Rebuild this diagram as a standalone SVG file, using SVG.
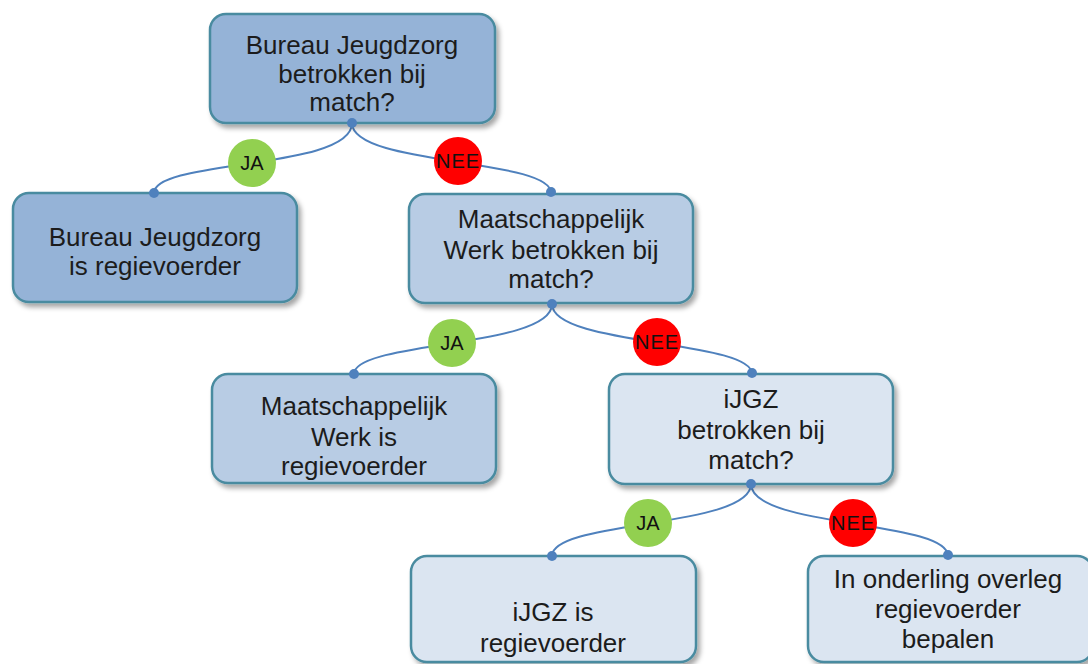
<svg xmlns="http://www.w3.org/2000/svg" width="1088" height="664" viewBox="0 0 1088 664">
  <defs>
    <filter id="shadow" x="-10%" y="-10%" width="125%" height="135%">
      <feDropShadow dx="3" dy="4" stdDeviation="2.5" flood-color="#000" flood-opacity="0.35"/>
    </filter>
  </defs>
  <style>
    .box { stroke: #4a8ba0; stroke-width: 2.5; filter: url(#shadow); }
    .dark { fill: #95b3d7; }
    .mid { fill: #b8cce4; }
    .light { fill: #dbe5f1; }
    .t { font-family: "Liberation Sans", Arial, Helvetica, sans-serif; font-size: 26px; fill: #1c1c1c; text-anchor: middle; }
    .conn { fill: none; stroke: #4f81bd; stroke-width: 2; }
    .dot { fill: #4f81bd; }
    .ja { fill: #92d050; }
    .nee { fill: #ff0000; }
    .lbl { font-family: "Liberation Sans", Arial, Helvetica, sans-serif; font-size: 20px; fill: #111; text-anchor: middle; }
    .lbln { letter-spacing: 1px; }
  </style>

  <g id="connectors">
    <path class="conn" d="M352,123 C352,170 154,159 154,193"/>
    <path class="conn" d="M352,123 C352,166 551,158 551,193"/>
    <path class="conn" d="M552,304 C552,348 354,341 354,374"/>
    <path class="conn" d="M552,304 C552,346 752,340 752,374"/>
    <path class="conn" d="M751,484 C751,528 552,520 552,556"/>
    <path class="conn" d="M751,484 C751,528 948,520 948,556"/>
  </g>

  <g id="n1">
    <rect class="box dark" x="210" y="14" width="285" height="109" rx="16"/>
    <text class="t" x="352" y="54">Bureau Jeugdzorg</text>
    <text class="t" x="352" y="83">betrokken bij</text>
    <text class="t" x="352" y="111">match?</text>
  </g>
  <g id="n2">
    <rect class="box dark" x="13" y="193" width="284" height="109" rx="16"/>
    <text class="t" x="155" y="246">Bureau Jeugdzorg</text>
    <text class="t" x="155" y="275">is regievoerder</text>
  </g>
  <g id="n3">
    <rect class="box mid" x="409" y="194" width="284" height="109" rx="16"/>
    <text class="t" x="551" y="228">Maatschappelijk</text>
    <text class="t" x="551" y="259">Werk betrokken bij</text>
    <text class="t" x="551" y="288">match?</text>
  </g>
  <g id="n4">
    <rect class="box mid" x="212" y="374" width="284" height="109" rx="16"/>
    <text class="t" x="354" y="415">Maatschappelijk</text>
    <text class="t" x="354" y="446">Werk is</text>
    <text class="t" x="354" y="475">regievoerder</text>
  </g>
  <g id="n5">
    <rect class="box light" x="609" y="374" width="284" height="110" rx="16"/>
    <text class="t" x="751" y="408">iJGZ</text>
    <text class="t" x="751" y="439">betrokken bij</text>
    <text class="t" x="751" y="469">match?</text>
  </g>
  <g id="n6">
    <rect class="box light" x="411" y="556" width="285" height="106" rx="16"/>
    <text class="t" x="553" y="621">iJGZ is</text>
    <text class="t" x="553" y="652">regievoerder</text>
  </g>
  <g id="n7">
    <rect class="box light" x="808" y="556" width="285" height="106" rx="16"/>
    <text class="t" x="948" y="588">In onderling overleg</text>
    <text class="t" x="948" y="618">regievoerder</text>
    <text class="t" x="948" y="648">bepalen</text>
  </g>

  <g id="dots">
    <circle class="dot" cx="352" cy="123" r="5"/>
    <circle class="dot" cx="154" cy="193" r="5"/>
    <circle class="dot" cx="551" cy="192" r="5"/>
    <circle class="dot" cx="552" cy="304" r="5"/>
    <circle class="dot" cx="354" cy="374" r="5"/>
    <circle class="dot" cx="752" cy="373" r="5"/>
    <circle class="dot" cx="751" cy="484" r="5"/>
    <circle class="dot" cx="552" cy="556" r="5"/>
    <circle class="dot" cx="948" cy="555" r="5"/>
  </g>

  <g id="labels">
    <g id="l1ja"><circle class="ja" cx="252" cy="163" r="24"/><text class="lbl" x="252" y="170">JA</text></g>
    <g id="l1nee"><circle class="nee" cx="458" cy="161" r="24"/><text class="lbl lbln" x="458" y="168">NEE</text></g>
    <g id="l2ja"><circle class="ja" cx="452" cy="343" r="24"/><text class="lbl" x="452" y="350">JA</text></g>
    <g id="l2nee"><circle class="nee" cx="657" cy="342" r="24"/><text class="lbl lbln" x="657" y="349">NEE</text></g>
    <g id="l3ja"><circle class="ja" cx="648" cy="523" r="24"/><text class="lbl" x="648" y="530">JA</text></g>
    <g id="l3nee"><circle class="nee" cx="853" cy="523" r="24"/><text class="lbl lbln" x="853" y="530">NEE</text></g>
  </g>
</svg>
